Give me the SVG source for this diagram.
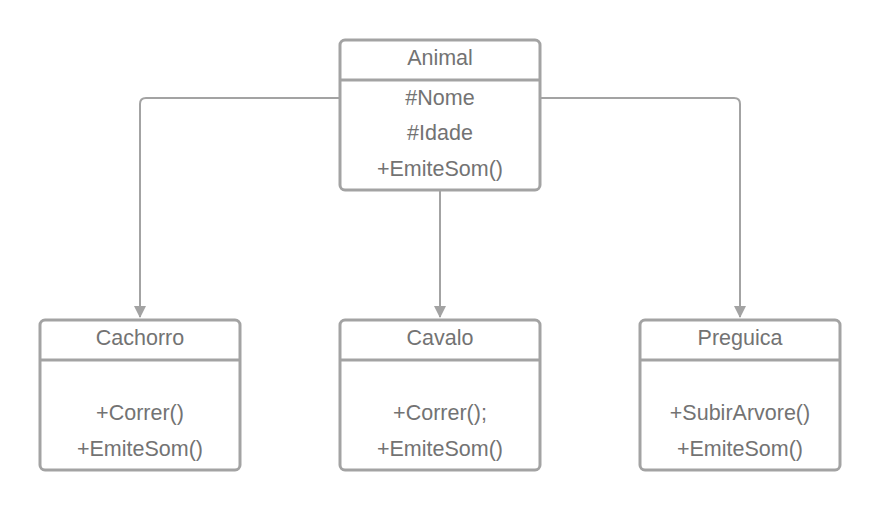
<svg xmlns="http://www.w3.org/2000/svg" width="880" height="511" viewBox="0 0 880 511">
<style>
.box{fill:#fff;stroke:#a3a3a3;stroke-width:3}
.div{stroke:#a3a3a3;stroke-width:3}
.t{font-family:"Liberation Sans",Arial,sans-serif;font-size:21.5px;fill:#737373;text-anchor:middle}
.c{fill:none;stroke:#a3a3a3;stroke-width:2}
</style>
<defs>
<marker id="ah" markerWidth="12" markerHeight="12" viewBox="0 0 12 12" refX="11" refY="6" orient="auto" markerUnits="userSpaceOnUse">
<path d="M0,0 L12,6 L0,12 Z" fill="#a3a3a3"/>
</marker>
</defs>
<rect width="880" height="511" fill="#fff"/>
<g id="connectors">
<path class="c" d="M340,98 H146 Q140,98 140,104 V317" marker-end="url(#ah)"/>
<path class="c" d="M440,190 V317" marker-end="url(#ah)"/>
<path class="c" d="M540,98 H734 Q740,98 740,104 V317" marker-end="url(#ah)"/>
</g>
<g id="animal">
<rect class="box" x="340" y="40" width="200" height="150" rx="5"/>
<line class="div" x1="340" y1="80" x2="540" y2="80"/>
<text class="t" x="440" y="64.5">Animal</text>
<text class="t" x="440" y="104.5">#Nome</text>
<text class="t" x="440" y="139.5">#Idade</text>
<text class="t" x="440" y="175.5">+EmiteSom()</text>
</g>
<g id="cachorro">
<rect class="box" x="40" y="320" width="200" height="150" rx="5"/>
<line class="div" x1="40" y1="360" x2="240" y2="360"/>
<text class="t" x="140" y="344.5">Cachorro</text>
<text class="t" x="140" y="419.5">+Correr()</text>
<text class="t" x="140" y="455.5">+EmiteSom()</text>
</g>
<g id="cavalo">
<rect class="box" x="340" y="320" width="200" height="150" rx="5"/>
<line class="div" x1="340" y1="360" x2="540" y2="360"/>
<text class="t" x="440" y="344.5">Cavalo</text>
<text class="t" x="440" y="419.5">+Correr();</text>
<text class="t" x="440" y="455.5">+EmiteSom()</text>
</g>
<g id="preguica">
<rect class="box" x="640" y="320" width="200" height="150" rx="5"/>
<line class="div" x1="640" y1="360" x2="840" y2="360"/>
<text class="t" x="740" y="344.5">Preguica</text>
<text class="t" x="740" y="419.5">+SubirArvore()</text>
<text class="t" x="740" y="455.5">+EmiteSom()</text>
</g>
</svg>
